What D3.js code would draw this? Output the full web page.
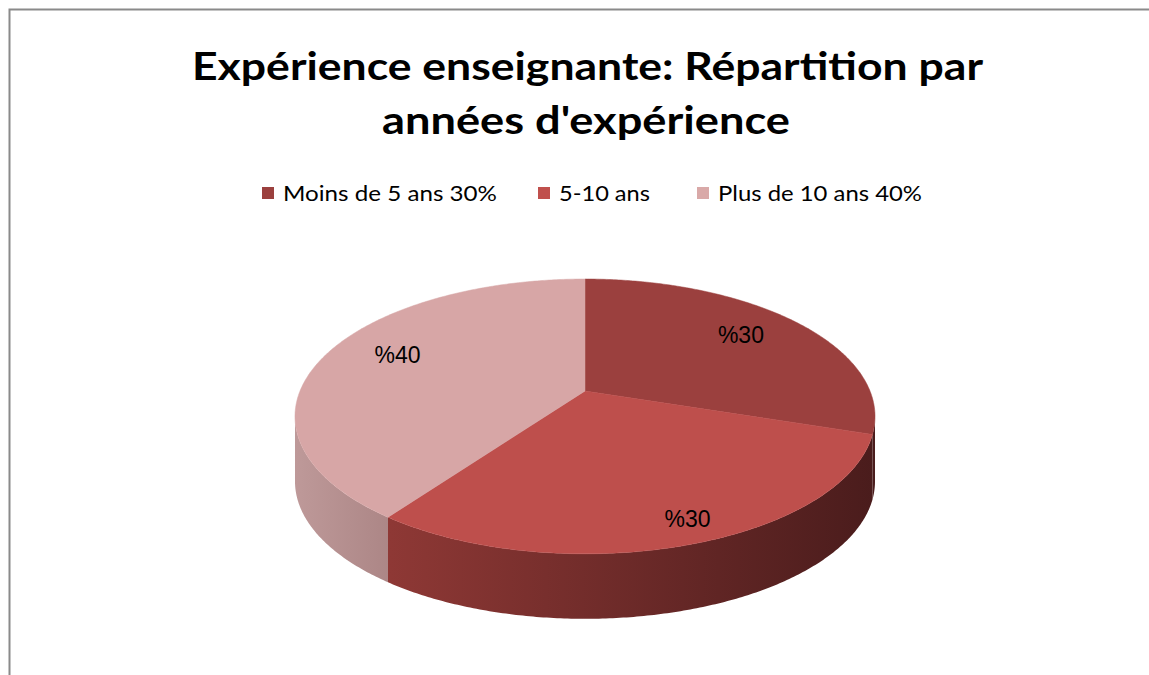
<!DOCTYPE html>
<html>
<head>
<meta charset="utf-8">
<script src="https://cdn.jsdelivr.net/npm/d3@7"></script>
<style>
  html, body { margin: 0; padding: 0; background: #fff; }
  svg { display: block; }
</style>
</head>
<body>
<svg id="chart" width="1149" height="675"></svg>
<script>
// ---- data ----
const titleLines = ["Expérience enseignante: Répartition par", "années d'expérience"];
const categories = ["Moins de 5 ans 30%", "5-10 ans", "Plus de 10 ans 40%"];
const values = [30, 30, 40];
const pieLabels = ["%30", "%30", "%40"];

// ---- styles ----
const topColors = ["#9B403E", "#BE4F4C", "#D7A6A6"];
const legendColors = ["#9B403E", "#C0504D", "#D9A9A8"];
const sideStops = [
  [["#4E1F1F", 0], ["#4A1C1C", 1]],
  [["#8E3835", 0], ["#4A1C1C", 1]],
  [["#BE9999", 0], ["#AC8686", 1]]
];

const svg = d3.select("#chart");

// border (left + top visible)
svg.append("rect")
  .attr("x", 9.5).attr("y", 9.5)
  .attr("width", 1300).attr("height", 800)
  .attr("fill", "none").attr("stroke", "#8a8a8a").attr("stroke-width", 2);

// title
const titleFont = "Lato, 'Open Sans', sans-serif";
svg.append("text")
  .attr("x", 587.5).attr("y", 80)
  .attr("text-anchor", "middle")
  .attr("font-family", titleFont).attr("font-weight", "bold").attr("font-size", 39)
  .attr("textLength", 791).attr("lengthAdjust", "spacingAndGlyphs")
  .text(titleLines[0]);
svg.append("text")
  .attr("x", 586).attr("y", 134)
  .attr("text-anchor", "middle")
  .attr("font-family", titleFont).attr("font-weight", "bold").attr("font-size", 39)
  .attr("textLength", 408).attr("lengthAdjust", "spacingAndGlyphs")
  .text(titleLines[1]);

// legend
const legendX = [262, 538, 697];
const legendW = [214, 91, 204];
const lg = svg.append("g");
categories.forEach((c, i) => {
  lg.append("rect").attr("x", legendX[i]).attr("y", 187).attr("width", 12).attr("height", 12)
    .attr("fill", legendColors[i]);
  lg.append("text").attr("x", legendX[i] + 21).attr("y", 201)
    .attr("font-family", "Lato, 'Open Sans', sans-serif").attr("font-size", 22)
    .attr("textLength", legendW[i]).attr("lengthAdjust", "spacingAndGlyphs")
    .attr("fill", "#000")
    .text(c);
});

// ---- 3D pie with perspective ----
const cx = 585, cy = 391, a = 285, b = 132.7, p = 0.185, depth = 65;
const rScale = d3.scaleLinear().domain([0, 1]).range([0, 1]);
function proj(theta, r = 1) {
  const s = Math.sin(theta) * rScale(r), c = Math.cos(theta) * rScale(r);
  const w = 1 + p * c;
  return [cx + a * s / w, cy - b * c / w];
}
const pie = d3.pie().sort(null).value(d => d)(values);

function arcPoints(a0, a1, r = 1) {
  const n = Math.max(2, Math.ceil((a1 - a0) / 0.01));
  const pts = [];
  for (let k = 0; k <= n; k++) pts.push(proj(a0 + (a1 - a0) * k / n, r));
  return pts;
}

const defs = svg.append("defs");
sideStops.forEach((st, i) => {
  const g = defs.append("linearGradient").attr("id", "side" + i)
    .attr("gradientUnits", "userSpaceOnUse")
    .attr("x1", i === 2 ? 295 : 390).attr("x2", i === 2 ? 390 : 875)
    .attr("y1", 0).attr("y2", 0);
  st.forEach(s => g.append("stop").attr("offset", s[1]).attr("stop-color", s[0]));
});

// silhouette angles (widest points)
const thR = Math.acos(-p), thL = 2 * Math.PI - Math.acos(-p);
const sides = svg.append("g");
pie.forEach((d, i) => {
  const a0 = Math.max(d.startAngle, thR), a1 = Math.min(d.endAngle, thL);
  if (a1 <= a0) return;
  const top = arcPoints(a0, a1);
  const bottom = top.map(q => [q[0], q[1] + depth]).reverse();
  sides.append("path")
    .attr("d", d3.line()(top.concat(bottom)) + "Z")
    .attr("fill", "url(#side" + i + ")");
});

const tops = svg.append("g");
pie.forEach((d, i) => {
  const pts = [[cx, cy]].concat(arcPoints(d.startAngle, d.endAngle));
  tops.append("path")
    .attr("d", d3.line()(pts) + "Z")
    .attr("fill", topColors[i])
    .attr("stroke", topColors[i]).attr("stroke-width", 0.5);
});

// labels
const labelR = [0.62, 0.72, 0.72];
const labelOffset = [[22, -11], [30, 24], [0, -8]];
pie.forEach((d, i) => {
  const mid = (d.startAngle + d.endAngle) / 2;
  const q = proj(mid, labelR[i]);
  svg.append("text")
    .attr("x", q[0] + labelOffset[i][0]).attr("y", q[1] + labelOffset[i][1])
    .attr("text-anchor", "middle").attr("dominant-baseline", "central")
    .attr("font-family", "'Liberation Sans', Arial, sans-serif").attr("font-size", 23)
    .attr("fill", "#000")
    .text(pieLabels[i]);
});
</script>
</body>
</html>
